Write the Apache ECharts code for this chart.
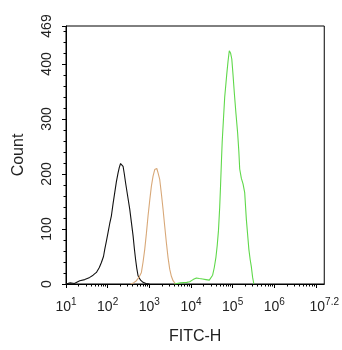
<!DOCTYPE html>
<html><head><meta charset="utf-8">
<script src="https://cdn.jsdelivr.net/npm/echarts@6/dist/echarts.min.js"></script>
<style>html,body{margin:0;padding:0;background:#fff}#c{width:342px;height:350px}</style>
</head><body><div id="c"></div>
<script>
// x values are log10(FITC-H)
const xMajorTicks = [1, 2, 3, 4, 5, 6, 7];
const xLabelTicks = [1, 2, 3, 4, 5, 6, 7.2];
const yLabelTicks = [0, 100, 200, 300, 400, 469];

const blackX = [1.0,1.1,1.2,1.33,1.45,1.57,1.65,1.73,1.8,1.85,1.9,1.93,1.97,2.01,2.05,2.09,2.13,2.17,2.21,2.25,2.28,2.31,2.34,2.37,2.4,2.43,2.48,2.53,2.57,2.61,2.64,2.67,2.7,2.73,2.79,2.85,2.92,3.0];
const blackY = [0,2,1,6,8,12,16,21,30,39,50,63,78,94,110,124,146,166,186,202,212,219,217,214,200,184,160,136,112,88,65,45,28,15,7,3,1,0];

const tanX = [2.55,2.62,2.69,2.75,2.81,2.85,2.89,2.93,2.97,3.01,3.05,3.09,3.13,3.16,3.18,3.21,3.25,3.29,3.33,3.37,3.41,3.45,3.49,3.53,3.57,3.63];
const tanY = [0,2,6,12,21,40,63,92,124,152,178,196,208,210,210,202,190,164,136,105,75,48,27,14,6,0];

const greenX = [3.6,3.75,3.9,3.97,4.05,4.13,4.2,4.28,4.36,4.44,4.48,4.52,4.56,4.6,4.63,4.66,4.69,4.71,4.73,4.75,4.78,4.81,4.84,4.86,4.89,4.92,4.95,4.98,5.01,5.04,5.08,5.12,5.15,5.17,5.21,5.25,5.29,5.33,5.36,5.39,5.42,5.45,5.48,5.51];
const greenY = [0,2,3,4,8,11,10,9,8,7,10,16,30,49,70,97,140,178,220,259,300,340,365,382,405,424,420,409,380,348,310,275,240,209,192,182,166,117,90,63,45,31,12,0];

const pairs = (xs, ys) => xs.map((x, i) => [x, ys[i]]);
const minorTicks = [];
for (let d = 1; d < 7.2; d++) {
  for (let k = 2; k <= 9; k++) {
    const v = d + Math.log10(k);
    if (v < 7.2) minorTicks.push(v);
  }
}
const FONT = 'Liberation Sans, Arial, sans-serif';
const chart = echarts.init(document.getElementById('c'));
const line = (data, color) => ({
  type: 'line', data, symbol: 'none', smooth: false,
  lineStyle: { color, width: 1.1 }, xAxisIndex: 0, yAxisIndex: 0
});
chart.setOption({
  animation: false,
  grid: { left: 66, right: 17, top: 26, bottom: 65, show: true, borderColor: '#000', borderWidth: 1, backgroundColor: '#fff' },
  xAxis: [{
    type: 'value', min: 1, max: 7.2,
    name: 'FITC-H', nameLocation: 'middle', nameGap: 45,
    nameTextStyle: { fontFamily: FONT, fontSize: 16, color: '#222' },
    axisLine: { lineStyle: { color: '#000', width: 1 } },
    axisTick: { show: true, length: 4, customValues: xMajorTicks, lineStyle: { color: '#000' } },
    splitLine: { show: false },
    axisLabel: {
      customValues: xLabelTicks, margin: 13, color: '#222',
      formatter: v => '{b|10}{s|' + (Number.isInteger(v) ? v : v.toFixed(1)) + '}',
      rich: {
        b: { fontFamily: FONT, fontSize: 14, color: '#222', verticalAlign: 'bottom' },
        s: { fontFamily: FONT, fontSize: 10, color: '#222', verticalAlign: 'bottom', padding: [0, 0, 7, 0] }
      }
    }
  }, {
    type: 'value', min: 1, max: 7.2, position: 'bottom',
    axisLine: { show: false }, axisLabel: { show: false }, splitLine: { show: false },
    axisTick: { show: true, length: 2.5, customValues: minorTicks, lineStyle: { color: '#000' } }
  }],
  yAxis: {
    type: 'value', min: 0, max: 469, interval: 100,
    name: 'Count', nameLocation: 'middle', nameGap: 39, nameRotate: 90,
    nameTextStyle: { fontFamily: FONT, fontSize: 16, color: '#222' },
    axisLine: { show: true, lineStyle: { color: '#000', width: 1 } },
    axisTick: { show: true, length: 4, customValues: yLabelTicks, lineStyle: { color: '#000' } },
    minorTick: { show: true, splitNumber: 5, length: 2.5, lineStyle: { color: '#000' } },
    splitLine: { show: false }, minorSplitLine: { show: false },
    axisLabel: { customValues: yLabelTicks, rotate: 90, margin: 12, fontFamily: FONT, fontSize: 14, color: '#222' }
  },
  series: [
    line(pairs(blackX, blackY), '#111111'),
    line(pairs(tanX, tanY), '#d8a878'),
    line(pairs(greenX, greenY), '#5fd84a')
  ]
});
</script></body></html>
